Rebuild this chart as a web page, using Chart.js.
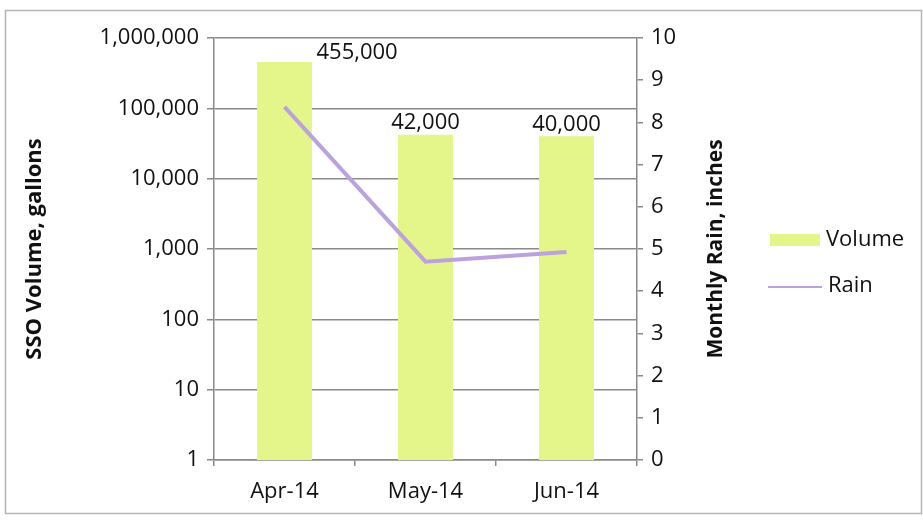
<!DOCTYPE html>
<html>
<head>
<meta charset="utf-8">
<script src="https://cdn.jsdelivr.net/npm/chart.js@4.4.0/dist/chart.umd.min.js"></script>
<style>
  html, body { margin: 0; padding: 0; background: #fff; }
  #wrap { width: 923px; height: 520px; }
</style>
</head>
<body>
<div id="wrap"><canvas id="grafico" width="923" height="520"></canvas></div>
<script>
// dados
const meses = ["Apr-14", "May-14", "Jun-14"];
const volume = [455000, 42000, 40000];
const chuva = [8.37, 4.70, 4.93];
const ticksVolume = [1, 10, 100, 1000, 10000, 100000, 1000000];
const ticksChuva = [0, 1, 2, 3, 4, 5, 6, 7, 8, 9, 10];

const fonte = "'Open Sans', sans-serif";
const cinza = "#8a8a8a";

// moldura em volta do gráfico
const moldura = {
  id: "moldura",
  beforeDraw(chart) {
    const ctx = chart.ctx;
    ctx.save();
    ctx.fillStyle = "#fff";
    ctx.fillRect(0, 0, chart.width, chart.height);
    ctx.strokeStyle = "#b5b5b5";
    ctx.lineWidth = 1.5;
    ctx.strokeRect(5.5, 10.5, 916, 503);
    ctx.restore();
  }
};

// rótulos de valor das barras
const rotulos = {
  id: "rotulos",
  afterDatasetsDraw(chart) {
    const ctx = chart.ctx;
    const meta = chart.getDatasetMeta(0);
    ctx.save();
    ctx.font = "22px " + fonte;
    ctx.fillStyle = "#111";
    ctx.textBaseline = "bottom";
    meta.data.forEach(function (bar, i) {
      const txt = volume[i].toLocaleString("en-US");
      if (i === 0) {
        ctx.textAlign = "left";
        ctx.fillText(txt, bar.x + 32, bar.y + 2);
      } else {
        ctx.textAlign = "center";
        ctx.fillText(txt, bar.x, bar.y - 1);
      }
    });
    ctx.restore();
  }
};

// título do eixo da direita (lido de baixo para cima) e legenda
const extras = {
  id: "extras",
  afterDraw(chart) {
    const ctx = chart.ctx;
    const ds = chart.data.datasets;
    const area = chart.chartArea;
    ctx.save();
    ctx.translate(716, (area.top + area.bottom) / 2);
    ctx.rotate(-Math.PI / 2);
    ctx.font = "bold 21px " + fonte;
    ctx.fillStyle = "#111";
    ctx.textAlign = "center";
    ctx.textBaseline = "middle";
    ctx.fillText("Monthly Rain, inches", 0, 0);
    ctx.restore();

    ctx.save();
    ctx.font = "22px " + fonte;
    ctx.textBaseline = "middle";
    ctx.textAlign = "left";
    ctx.fillStyle = ds[0].backgroundColor;
    ctx.fillRect(770, 234, 50, 12);
    ctx.fillStyle = "#111";
    ctx.fillText(ds[0].label, 826, 240);
    ctx.strokeStyle = ds[1].borderColor;
    ctx.lineWidth = 2;
    ctx.beginPath();
    ctx.moveTo(768, 287);
    ctx.lineTo(822, 287);
    ctx.stroke();
    ctx.fillText(ds[1].label, 828, 286);
    ctx.restore();
  }
};

new Chart(document.getElementById("grafico").getContext("2d"), {
  type: "bar",
  data: {
    labels: meses,
    datasets: [{
      type: "bar",
      label: "Volume",
      data: volume,
      backgroundColor: "#e4f58a",
      yAxisID: "yVol",
      categoryPercentage: 1,
      barPercentage: 0.39,
      order: 1
    }, {
      type: "line",
      label: "Rain",
      data: chuva,
      borderColor: "#bba2de",
      borderWidth: 4,
      pointRadius: 0,
      tension: 0,
      yAxisID: "yChuva",
      order: 0
    }]
  },
  options: {
    responsive: false,
    animation: false,
    layout: { padding: { top: 38, right: 190, left: 0, bottom: 0 } },
    plugins: { legend: { display: false }, tooltip: { enabled: false } },
    scales: {
      x: {
        afterFit(s) { s.height = 60; },
        grid: { offset: true, drawOnChartArea: false, drawTicks: true, tickLength: 6, color: cinza, lineWidth: 1.5 },
        border: { color: cinza, width: 1.5 },
        ticks: { color: "#111", padding: 13, font: { family: fonte, size: 22 } }
      },
      yVol: {
        type: "logarithmic",
        position: "left",
        min: 1,
        max: 1000000,
        afterFit(s) { s.width = 214; },
        afterBuildTicks(s) { s.ticks = ticksVolume.map(v => ({ value: v })); },
        grid: { color: cinza, lineWidth: 1.5, tickLength: 7 },
        border: { color: cinza, width: 1.5 },
        ticks: {
          color: "#111",
          padding: 8,
          font: { family: fonte, size: 22 },
          callback: v => Number(v).toLocaleString("en-US")
        },
        title: {
          display: true,
          text: "SSO Volume, gallons",
          color: "#111",
          padding: { top: 22, bottom: 0 },
          font: { family: fonte, size: 22, weight: "bold" }
        }
      },
      yChuva: {
        position: "right",
        min: 0,
        max: 10,
        afterFit(s) { s.width = 96; },
        afterBuildTicks(s) { s.ticks = ticksChuva.map(v => ({ value: v })); },
        grid: { drawOnChartArea: false, color: cinza, lineWidth: 1.5, tickLength: 6 },
        border: { color: cinza, width: 1.5 },
        ticks: { color: "#111", padding: 8, font: { family: fonte, size: 22 } }
      }
    }
  },
  plugins: [moldura, rotulos, extras]
});
</script>
</body>
</html>
